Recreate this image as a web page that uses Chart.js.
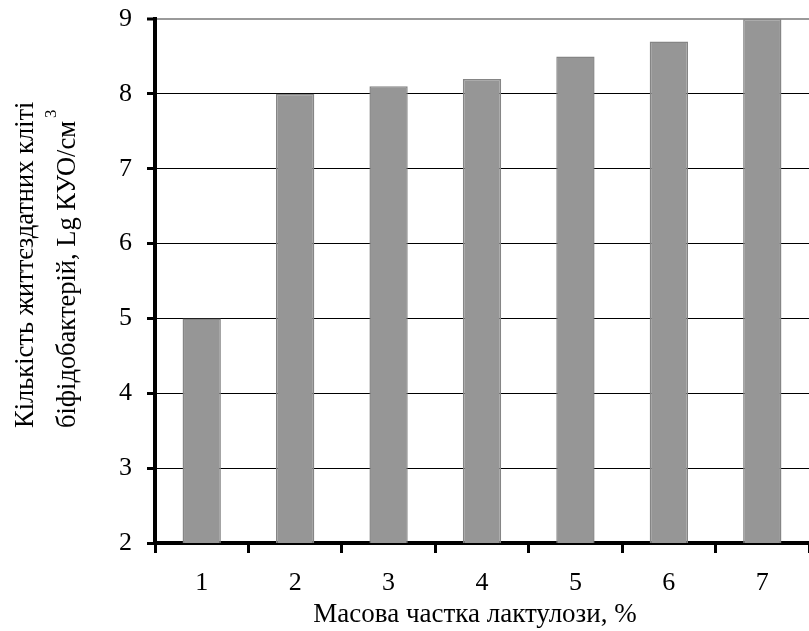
<!DOCTYPE html>
<html>
<head>
<meta charset="utf-8">
<script src="https://cdn.jsdelivr.net/npm/chart.js@4/dist/chart.umd.min.js"></script>
<style>
html,body{margin:0;padding:0;background:#fff;}
#wrap{width:809px;height:631px;position:relative;}
</style>
</head>
<body>
<div id="wrap"><canvas id="c" width="809" height="631"></canvas></div>
<script>
const categories = ["1", "2", "3", "4", "5", "6", "7"];
const values = [5.0, 8.0, 8.1, 8.2, 8.5, 8.7, 9.0];
const yTicks = [2, 3, 4, 5, 6, 7, 8, 9];
const xTitle = "Масова частка лактулози, %";
const yTitleLine1 = "Кількість життєздатних кліті";
const yTitleLine2 = "біфідобактерій, Lg КУО/см";
const yTitleSup = "3";

const FONT = "'Liberation Serif', 'Times New Roman', serif";

const titlePlugin = {
  id: 'titles',
  afterDraw(chart) {
    const ctx = chart.ctx;
    ctx.save();
    ctx.fillStyle = '#000';
    // x title
    ctx.font = "27px " + FONT;
    ctx.textAlign = 'center';
    ctx.textBaseline = 'alphabetic';
    ctx.fillText(xTitle, 475, 622);
    // y title line 1
    ctx.save();
    ctx.translate(33, 428);
    ctx.rotate(-Math.PI / 2);
    ctx.textAlign = 'left';
    ctx.font = "26.5px " + FONT;
    ctx.fillText(yTitleLine1, 0, 0);
    ctx.restore();
    // y title line 2
    ctx.save();
    ctx.translate(75, 428);
    ctx.rotate(-Math.PI / 2);
    ctx.textAlign = 'left';
    ctx.font = "26.5px " + FONT;
    ctx.fillText(yTitleLine2, 0, 0);
    const w = ctx.measureText(yTitleLine2).width;
    ctx.font = "17px " + FONT;
    ctx.fillText(yTitleSup, w + 3, -19);
    ctx.restore();
    ctx.restore();
  }
};

new Chart(document.getElementById('c'), {
  type: 'bar',
  data: {
    labels: categories,
    datasets: [{
      data: values,
      backgroundColor: '#969696',
      borderColor: '#858585',
      borderWidth: 1.5,
      borderSkipped: 'start',
      categoryPercentage: 1.0,
      barPercentage: 0.41
    }]
  },
  options: {
    responsive: false,
    animation: false,
    devicePixelRatio: 1,
    layout: { padding: { top: 19, right: 0, bottom: 0, left: 0 } },
    plugins: { legend: { display: false }, tooltip: { enabled: false } },
    scales: {
      x: {
        offset: true,
        grid: {
          offset: true,
          drawOnChartArea: false,
          color: '#000',
          tickColor: '#000',
          tickLength: 10,
          tickWidth: 3
        },
        border: { color: '#000', width: 4 },
        ticks: { color: '#000', font: { family: FONT, size: 26 }, padding: 15, maxRotation: 0 },
        afterFit(scale) { scale.height = 88; scale.paddingLeft = 0; scale.paddingRight = 0; }
      },
      y: {
        min: 2,
        max: 9,
        afterBuildTicks(scale) { scale.ticks = yTicks.map(v => ({ value: v })); },
        grid: {
          color: ctx => (ctx.tick && ctx.tick.value === 9) ? '#9a9a9a' : '#000',
          lineWidth: ctx => (ctx.tick && ctx.tick.value === 9) ? 2 : 1,
          tickColor: '#000',
          tickLength: 8,
          tickWidth: 3
        },
        border: { color: '#000', width: 4 },
        ticks: { color: '#000', font: { family: FONT, size: 26 }, padding: 15 },
        afterFit(scale) { scale.width = 155; scale.paddingTop = 0; scale.paddingBottom = 0; }
      }
    }
  },
  plugins: [titlePlugin]
});
</script>
</body>
</html>
